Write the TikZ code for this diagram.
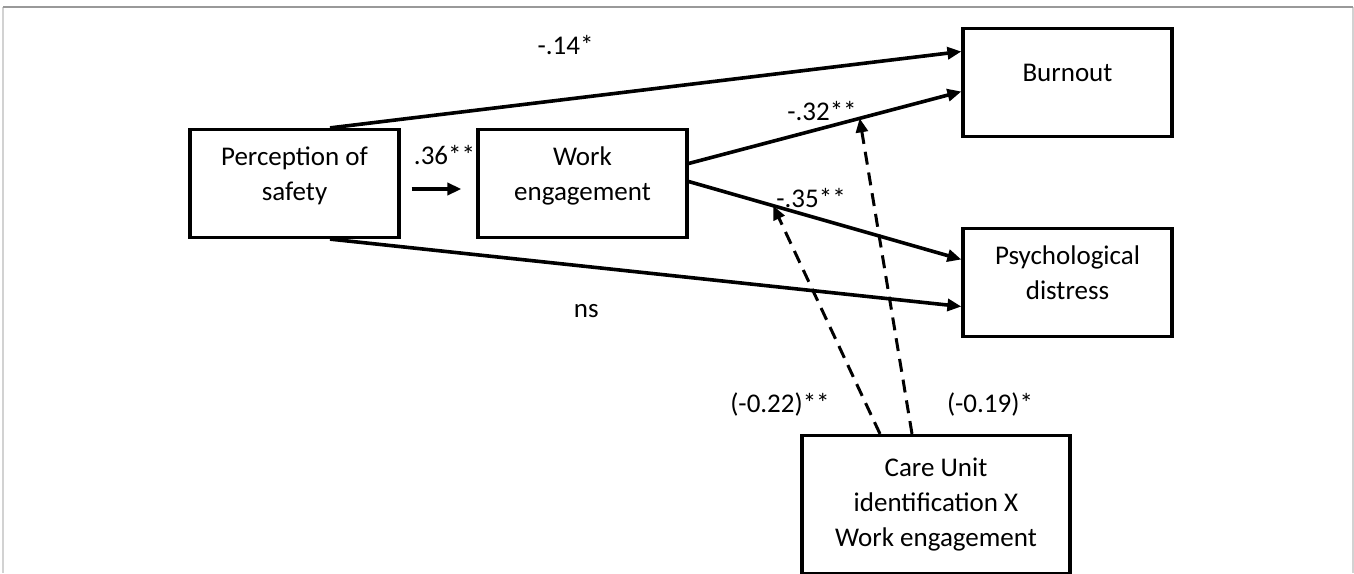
\documentclass[tikz,border=0pt]{standalone}
\usepackage{fontspec}
\setmainfont{Carlito}
\usetikzlibrary{arrows.meta}
\tikzstyle{box}=[draw,
                 line width=1.6pt,
                 minimum width=104.5pt,
                 minimum height=54pt,
                 align=center]
\tikzstyle{var}=[box,
                 text depth=10pt]
\tikzstyle{effect}=[line width=1.8pt,
                    -{Triangle[length=7pt,width=6pt]}]
\tikzstyle{moder}=[line width=1.5pt,
                   dash pattern=on 6.5pt off 4pt,
                   -{Triangle[length=7pt,width=6pt]}]
\tikzstyle{coef}=[inner sep=0pt]

\begin{document}
\begin{tikzpicture}[x=0.5pt,y=-0.5pt,font=\fontsize{13.5}{17.5}\selectfont]
    \useasboundingbox (0,0) rectangle (1354,573);
    % frame
    \draw[gray!35, line width=1pt] (3,573) -- (3,7) (1353,7) -- (1353,573);
    \draw[gray!80, line width=1pt] (3,7) -- (1353,7);

    \node[var] (safety) at (294.5,183.5) {Perception of\\safety};
    \node[var, node distance=144pt, right of=safety] (engage) {Work\\engagement};
    \node[var, node distance=242.5pt, right of=engage, yshift=50.5pt] (burnout) {Burnout};
    \node[var, node distance=100pt, below of=burnout] (distress) {Psychological\\distress};
    \node[box, minimum width=134pt, minimum height=69pt, node distance=111pt, below of=distress, xshift=-65.75pt] (careid) {Care Unit\\identification X\\Work engagement};

    \draw[effect] ([xshift=5.5pt,yshift=-2.75pt]safety.east) -- node[coef, xshift=4pt, yshift=17pt] (b36) {.36**} ([xshift=-7.5pt,yshift=-2.75pt]engage.west);
    \draw[effect] ([xshift=17.75pt]safety.north) -- node[coef, pos=0.373, yshift=27pt] (b14) {-.14*} ([yshift=15.5pt]burnout.west);
    \draw[effect] ([xshift=17.75pt]safety.south) -- node[coef, pos=0.406, yshift=-22.5pt] (bns) {ns} ([yshift=-12pt]distress.west);
    \draw[effect] ([yshift=10pt]engage.east) -- coordinate[pos=0.627] (m32) node[coef, pos=0.489, yshift=8.5pt] (b32) {-.32**} ([yshift=-4.5pt]burnout.west);
    \draw[effect] ([yshift=1pt]engage.east) -- coordinate[pos=0.31] (m35) node[coef, pos=0.449, yshift=9.5pt] (b35) {-.35**} ([yshift=11.5pt]distress.west);

    % moderation
    \draw[moder] ([xshift=-28pt]careid.north) -- node[coef, pos=0, xshift=-50pt, yshift=14.5pt] (b22) {(-0.22)**} (m35);
    \draw[moder] ([xshift=-12pt]careid.north) -- node[coef, pos=0, xshift=39pt, yshift=14.5pt] (b19) {(-0.19)*} (m32);
\end{tikzpicture}
\end{document}
